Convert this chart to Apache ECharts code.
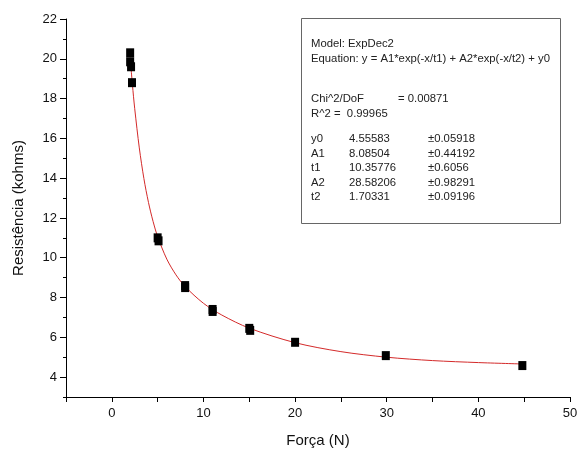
<!DOCTYPE html>
<html>
<head>
<meta charset="utf-8">
<script src="https://cdn.jsdelivr.net/npm/echarts@6/dist/echarts.min.js"></script>
<style>html,body{margin:0;padding:0;background:#fff;}#c{width:581px;height:455px;}</style>
</head>
<body>
<div id="c"></div>
<script>
// Measured points (Força N, Resistência kohms)
const forceX = [2, 2, 2.1, 2.2, 5, 5.1, 8, 8, 11, 11, 15, 15.1, 20, 29.9, 44.8];
const resistY = [20.3, 19.85, 19.6, 18.8, 11.0, 10.85, 8.6, 8.5, 7.4, 7.3, 6.45, 6.35, 5.75, 5.08, 4.58];
// Fitted curve
const fitX = [2, 2.25, 2.5, 3, 3.5, 4, 4.5, 5, 6, 7, 8, 10, 12, 15, 20, 25, 30, 35, 40, 44.8];
const fitY = [20.06, 18.69, 17.49, 15.52, 13.98, 12.78, 11.83, 11.06, 9.93, 9.14, 8.55, 7.71, 7.12, 6.46, 5.73, 5.28, 5.00, 4.83, 4.73, 4.66];
const xTickLabels = [0, 10, 20, 30, 40, 50];
const yTickLabels = [4, 6, 8, 10, 12, 14, 16, 18, 20, 22];
const headerLines = ['Model: ExpDec2', 'Equation: y = A1*exp(-x/t1) + A2*exp(-x/t2) + y0'];
const statNames = ['Chi^2/DoF', 'R^2'];
const statValues = ['= 0.00871', '=  0.99965'];
const paramNames = ['y0', 'A1', 't1', 'A2', 't2'];
const paramValues = ['4.55583', '8.08504', '10.35776', '28.58206', '1.70331'];
const paramErrors = ['\u00b10.05918', '\u00b10.44192', '\u00b10.6056', '\u00b10.98291', '\u00b10.09196'];

const font = '"Liberation Sans", Arial, sans-serif';
const chart = echarts.init(document.getElementById('c'));
const txt = (x, y, s) => ({type: 'text', x: x, y: y, z: 11,
  style: {text: s, fill: '#222', font: '11.3px ' + font, verticalAlign: 'middle', align: 'left'}});
const graphics = [
  {type: 'rect', shape: {x: 301.5, y: 18.5, width: 259, height: 205}, style: {fill: '#fff', stroke: '#666', lineWidth: 1}, z: 10}
];
graphics.push(txt(311, 44, headerLines[0]));
graphics.push(txt(311, 58.5, headerLines[1]));
graphics.push(txt(311, 99, statNames[0]));
graphics.push(txt(398, 99, statValues[0]));
graphics.push(txt(311, 113.5, statNames[1]));
graphics.push(txt(334, 113.5, statValues[1]));
paramNames.forEach((n, i) => {
  const y = 139 + i * 14.5;
  graphics.push(txt(311, y, n));
  graphics.push(txt(349, y, paramValues[i]));
  graphics.push(txt(428, y, paramErrors[i]));
});

const yBase = {type: 'value', min: 3, max: 22, interval: 1, position: 'left', splitLine: {show: false}};
chart.setOption({
  animation: false,
  backgroundColor: '#fff',
  grid: {left: 66, right: 11, top: 19, bottom: 58},
  xAxis: {
    type: 'value', min: -5, max: 50, interval: 5,
    name: 'Força (N)', nameLocation: 'middle', nameGap: 36,
    nameTextStyle: {fontSize: 15, color: '#111', fontFamily: font},
    axisLine: {onZero: false, lineStyle: {color: '#000', width: 1}},
    axisTick: {show: true, length: 5, lineStyle: {color: '#000'}},
    axisLabel: {fontSize: 13, color: '#111', fontFamily: font, margin: 10,
      formatter: v => xTickLabels.includes(v) ? String(v) : ''},
    splitLine: {show: false}
  },
  yAxis: [
    Object.assign({}, yBase, {
      name: 'Resistência (kohms)', nameLocation: 'middle', nameGap: 40,
      nameTextStyle: {fontSize: 15, color: '#111', fontFamily: font},
      axisLine: {show: true, onZero: false, lineStyle: {color: '#000', width: 1}},
      axisTick: {show: true, length: 6, customValues: yTickLabels, lineStyle: {color: '#000'}},
      axisLabel: {fontSize: 13, color: '#111', fontFamily: font, margin: 9,
        formatter: v => yTickLabels.includes(v) ? String(v) : ''}
    }),
    Object.assign({}, yBase, {
      offset: 0,
      axisLine: {show: false, onZero: false},
      axisTick: {show: true, length: 3, lineStyle: {color: '#000'}},
      axisLabel: {show: false}
    })
  ],
  graphic: graphics,
  series: [
    {
      type: 'line', data: fitX.map((x, i) => [x, fitY[i]]),
      smooth: 0.3, showSymbol: false, symbol: 'none',
      lineStyle: {color: '#d42a2a', width: 1}, z: 2
    },
    {
      type: 'scatter', data: forceX.map((x, i) => [x, resistY[i]]),
      symbol: 'rect', symbolSize: [8, 9],
      itemStyle: {color: '#000', opacity: 1}, z: 3
    }
  ]
});
</script>
</body>
</html>
